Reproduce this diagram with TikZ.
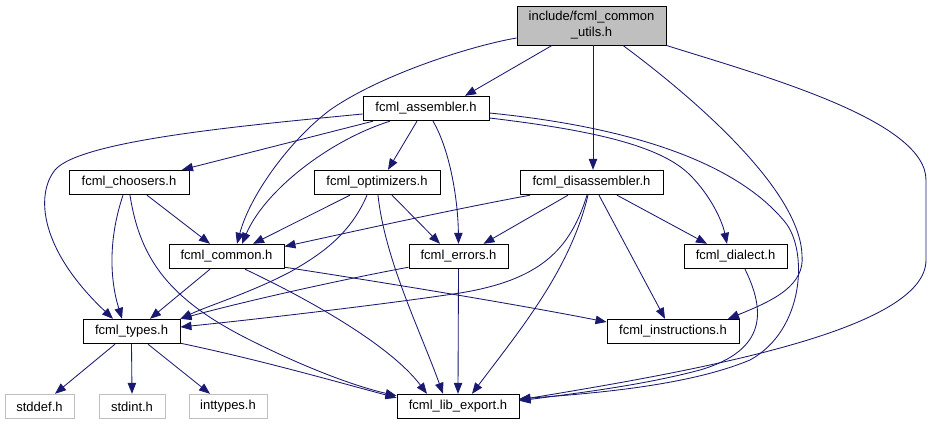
\documentclass[tikz,border=0pt]{standalone}
\usepackage{fontspec}
\setmainfont{Liberation Sans}
\usetikzlibrary{arrows.meta}
\definecolor{edgeblue}{HTML}{191970}
\definecolor{topgray}{HTML}{BFBFBF}
\definecolor{sysgray}{HTML}{BFBFBF}
\tikzset{
  box/.style={draw=black, line width=0.9pt, inner sep=0pt, minimum height=24.5pt,
    font=\fontsize{13}{16}\selectfont, text=black, fill=white},
  sysbox/.style={box, draw=sysgray},
  topbox/.style={box, fill=topgray, align=center, minimum height=39pt},
  dep/.style={draw=edgeblue, line width=0.85pt, -{Triangle[length=11pt,width=8.5pt]}, fill=none}
}
\begin{document}
\begin{tikzpicture}[x=1pt, y=-1pt]
\useasboundingbox (0,0) rectangle (932,425);
% nodes
\node[topbox, minimum width=149pt] (top) at (591.5,25.5) {include/fcml\_common\\\_utils.h};
\node[box, minimum width=126pt] (asm) at (426,108.5) {fcml\_assembler.h};
\node[box, minimum width=120pt] (choosers) at (129,182.5) {fcml\_choosers.h};
\node[box, minimum width=126pt] (opt) at (377,182.5) {fcml\_optimizers.h};
\node[box, minimum width=143pt] (dis) at (591.5,182.5) {fcml\_disassembler.h};
\node[box, minimum width=115pt] (common) at (226.5,256.5) {fcml\_common.h};
\node[box, minimum width=99pt] (errors) at (458.5,256.5) {fcml\_errors.h};
\node[box, minimum width=103pt] (dialect) at (735.5,256.5) {fcml\_dialect.h};
\node[box, minimum width=132pt] (instr) at (673,331.5) {fcml\_instructions.h};
\node[box, minimum width=97pt] (types) at (131.5,331.5) {fcml\_types.h};
\node[sysbox, minimum width=69pt] (stddef) at (39.5,406.5) {stddef.h};
\node[sysbox, minimum width=66pt] (stdint) at (132,406.5) {stdint.h};
\node[sysbox, minimum width=78pt] (inttypes) at (228,406.5) {inttypes.h};
\node[box, minimum width=122pt] (lib) at (458,406.5) {fcml\_lib\_export.h};

% top edges
\draw[dep] ([yshift=-12.5pt]top.west) .. controls (470,46) and (380,75) .. (330,110) .. controls (290,140) and (250,195) .. ([xshift=10.5pt]common.north);
\draw[dep] ([xshift=-39.5pt]top.south) -- ([xshift=39pt]asm.north);
\draw[dep] ([xshift=1.5pt]top.south) -- ([xshift=1.5pt]dis.north);
\draw[dep] ([xshift=31.5pt]top.south) .. controls (710,110) and (800,195) .. (802,255) .. controls (805,285) and (775,300) .. ([xshift=55pt]instr.north);
\draw[dep] (top.south east) .. controls (760,75) and (926,120) .. (926,180) -- (926,260) .. controls (926,330) and (700,370) .. ([yshift=-6pt]lib.north east);

% assembler edges
\draw[dep] ([yshift=-5.5pt]asm.west) .. controls (250,125) and (80,140) .. (55,170) .. controls (35,195) and (40,250) .. ([xshift=-18.5pt]types.north);
\draw[dep] ([xshift=-53pt]asm.south) -- ([xshift=53pt]choosers.north);
\draw[dep] ([xshift=-36pt]asm.south) .. controls (330,140) and (265,190) .. ([xshift=15.5pt]common.north);
\draw[dep] ([xshift=-9pt]asm.south) -- ([xshift=11pt]opt.north);
\draw[dep] ([xshift=7pt]asm.south) .. controls (450,150) and (458,200) .. (errors.north);
\draw[dep] ([yshift=-9.5pt]asm.east) .. controls (590,130) and (660,145) .. (690,175) .. controls (710,195) and (722,220) .. ([xshift=-8.5pt]dialect.north);
\draw[dep] ([yshift=-4.5pt]asm.east) .. controls (610,125) and (730,155) .. (785,222) .. controls (808,250) and (805,330) .. (750,360) .. controls (690,385) and (600,393) .. ([yshift=-5pt]lib.north east);

% choosers edges
\draw[dep] ([xshift=18pt]choosers.south) -- ([xshift=-16.5pt]common.north);
\draw[dep] ([xshift=-6pt]choosers.south) .. controls (108,240) and (110,280) .. ([xshift=-9.5pt]types.north);
\draw[dep] ([xshift=1pt]choosers.south) .. controls (140,260) and (170,300) .. (250,340) .. controls (300,365) and (350,385) .. ([yshift=-2pt]lib.north west);

% optimizers edges
\draw[dep] ([xshift=-27pt]opt.south) -- ([xshift=26.5pt]common.north);
\draw[dep] ([xshift=-10pt]opt.south) .. controls (350,235) and (320,255) .. (290,272) .. controls (250,293) and (210,305) .. (types.north east);
\draw[dep] ([xshift=15pt]opt.south) -- ([xshift=-18.5pt]errors.north);
\draw[dep] ([xshift=1pt]opt.south) .. controls (385,260) and (420,330) .. ([xshift=-15pt]lib.north);

% common edges
\draw[dep] ([xshift=-16.5pt]common.south) -- ([xshift=18.5pt]types.north);
\draw[dep] ([xshift=18.5pt]common.south) .. controls (310,300) and (390,345) .. ([xshift=-31pt]lib.north);
\draw[dep] ([yshift=2pt]common.south east) .. controls (400,285) and (520,305) .. ([yshift=9.5pt]instr.west);

% errors edges
\draw[dep] ([yshift=2pt]errors.south west) .. controls (340,280) and (250,300) .. (types.north east);
\draw[dep] (errors.south) -- (lib.north);

% disassembler edges
\draw[dep] ([xshift=-61.5pt]dis.south) .. controls (450,210) and (360,230) .. ([yshift=10pt]common.east);
\draw[dep] ([xshift=-23.5pt]dis.south) -- ([xshift=25pt]errors.north);
\draw[dep] ([xshift=-4.5pt]dis.south) .. controls (570,250) and (540,280) .. (460,293) .. controls (380,305) and (250,320) .. ([yshift=4.5pt]types.east);
\draw[dep] ([xshift=-3.5pt]dis.south) .. controls (570,270) and (520,330) .. ([xshift=14pt]lib.north);
\draw[dep] ([xshift=7.5pt]dis.south) -- ([xshift=-8pt]instr.north);
\draw[dep] ([xshift=25.5pt]dis.south) -- ([xshift=-28.5pt]dialect.north);

% dialect edge
\draw[dep] ([xshift=9.5pt]dialect.south) .. controls (765,310) and (768,350) .. (700,370) .. controls (640,386) and (570,394) .. ([yshift=-7pt]lib.north east);

% types edges
\draw[dep] ([xshift=-16.5pt]types.south) -- ([xshift=15.5pt]stddef.north);
\draw[dep] (types.south) -- (stdint.north);
\draw[dep] ([xshift=16.5pt]types.south) -- ([xshift=-18pt]inttypes.north);
\draw[dep] ([yshift=1pt]types.south east) .. controls (260,360) and (330,380) .. ([yshift=-4pt]lib.north west);
\end{tikzpicture}
\end{document}
